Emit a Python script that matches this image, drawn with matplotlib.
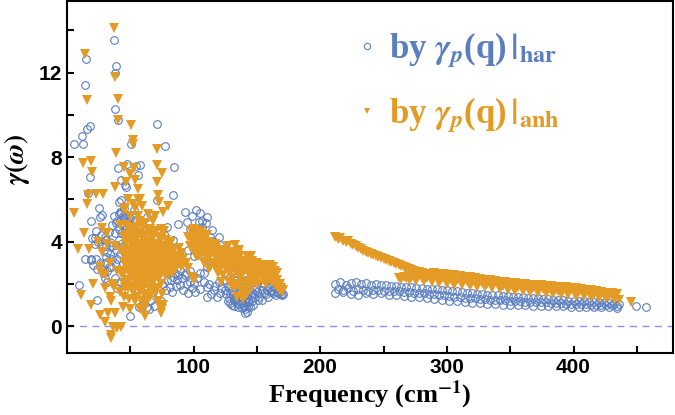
import matplotlib
matplotlib.use('Agg')
import matplotlib.pyplot as plt
from matplotlib.lines import Line2D

# data: (frequency cm^-1, gamma)
# by gamma_p(q)|har  (blue circles)
har_low = [(5.8,8.6),(12.6,8.6),(11.6,9.0),(14,11.4),(15,12.65),(15.9,9.35),(18.1,9.48),(37,13.55),
           (38.6,12.3),(38,12.0),(37.8,10.3),(40.7,9.76),(51,8.6),(71.4,9.57),(77.7,8.53),(84.5,7.55),
           (47.8,7.68),(57.5,7.63),(40.7,7.5),(54.4,7.6),(56.5,7.16),(18.3,7.05),(17,6.3),(25.4,5.58),
           (26.2,5.18),(27.7,5.26),(18.9,4.98),(20.2,4.16),(22.3,4.16),(30.2,4.08),(10,1.94),(23.6,1.23),
           (19.3,3.13),(23.2,3.18),(31.1,3.28),(27.6,2.69),(14.5,3.2),(19,3.2),(33.6,4.47),(39,3.84),
           (43,5.34),(45.5,5.18),(48.2,4.87),(46.8,6.6),(43,5.97),(42.6,6.92),(46.3,6.68),(41.5,5.89),
           (63,5.18),(71.2,5.97),(84,6.21),(78.8,4.7),(77,4.35),(93.2,5.42),(94.5,4.94),(88,4.83),
           (84,4.08),(84,2.81),(89.4,2.65),(93.4,2.42),(97.1,2.1),(96,1.55),(89.4,1.94),(81.6,1.86),
           (84,2.34),(86.9,2.97),(90.9,3.13),(28,3.8),(30,4.2),(32,3.5),(34,4.0),(35,2.8),(36,3.2),
           (38,4.4),(39,3.6),(40,5.0),(41,4.6),(42,5.4),(43,3.9),(44,4.8),(45,5.6),(46,4.3),(47,3.4),
           (48,5.1),(49,2.8),(50,4.5),(51,3.7),(52,2.3),(53,5.5),(54,4.0),(55,1.6),(56,3.2),(57,0.9),
           (58,2.0),(60,4.6),(62,1.4),(64,2.6),(65,0.8),(66,3.6),(68,1.6),(70,2.2),(72,4.0),(74,1.2),
           (76,2.8),(78,1.7),(80,3.4),(82,2.2),(86,1.9),(88,2.4),(92,1.7),(94,2.5),(30,2.3),(32,2.1),
           (33,2.8),(26,3.0),(24,2.7),(22,3.9),(27,4.3),(50,0.5),(44,3.0),(46,2.5),(41,4.1),(43,4.4),
           (45,3.7),(47,4.0)]
har_fill = [(36,4.8),(37,5.2),(38,3.0),(39,4.9),(40,3.2),(41,5.3),(42,3.4),(43,4.9),(44,5.2),(45,4.4),
            (46,5.0),(47,4.6),(48,3.8),(49,4.2),(50,5.1),(51,4.8),(52,4.3),(53,4.6),(54,5.0),(55,4.4),
            (36,3.8),(34,3.4),(32,2.6),(30,3.0),(29,2.5),(31,3.8),(25,4.0),(23,4.5),(21,2.9),(38,2.3),
            (40,1.8),(42,2.1),(57,4.8),(59,1.5),(61,1.1),(63,0.9),(66,1.2),(69,0.95),(72,1.5),(75,2.0),
            (79,2.2),(83,1.6),(85,2.5),(87,2.2),(91,2.3),(95,2.0),(97,2.6),(99,1.8),(101,1.6),(103,2.3),
            (108,2.5),(112,2.0),(114,1.5),(117,1.9),(120,2.1),(122,1.8),(126,1.5),(127,1.9),(128,1.35),
            (129,1.1),(130,1.7),(131,1.45),(132,0.95),(133,1.2),(134,1.5),(135,1.25),(136,1.05),
            (137,1.6),(138,0.85),(139,1.35),(140,1.0),(141,0.8),(142,1.35),(143,0.95),(144,1.15),
            (145,1.45),(146,1.2),(147,1.0),(148,1.5),(150,1.6),(152,1.4),(154,1.7),(157,1.5),(159,1.4),
            (162,1.7),(165,1.45),(169,1.5),(171,1.5),(104,3.8),(108,3.4),(113,4.2),(116,4.0),(107,5.0),
            (99,5.2),(97,4.6),(96,3.6)]
har_mid = [(102,5.5),(105.3,5.34),(110.6,5.18),(109.8,4.9),(104.2,4.94),(114.5,4.55),(106.8,4.7),
           (119.8,4.23),(121.1,3.84),(126.4,3.6),(118.5,3.13),(110.8,2.81),(105.3,2.5),(107.9,2.1),
           (110.6,1.86),(115.8,1.7),(110.6,1.39),(118.5,1.39),(121.1,1.55),(124.7,1.7),(105.3,1.78),
           (100.5,2.02),(129,1.55),(131.6,1.23),(134.3,1.08),(136.9,1.39),(139.5,0.92),(142.1,0.68),
           (144.8,0.92),(140.8,1.23),(134.3,1.7),(129,1.86),(131.6,2.18),(136.9,1.86),(143.4,1.63),
           (147.4,1.39),(151.3,1.23),(155.3,1.55),(157.9,1.7),(160.5,1.86),(163.1,1.55),(165.8,1.63),
           (163.1,2.02),(159.2,2.18),(152.6,2.34),(150,2.02),(144.8,1.94),(140.8,2.18),(132.9,2.5),
           (129,2.34),(167,1.55),(170,1.45),(127,1.2),(130,1.0),(133,1.4),(135,0.9),(138,1.1),(141,1.5),
           (143,1.2),(146,1.6),(149,1.8),(153,1.9),(156,2.0),(161,1.6),(164,1.8),(168,1.6),(112,3.6),
           (116,3.0),(123,2.8),(125,2.2),(128,2.9),(100,3.3),(103,4.2),(140.8,0.6),(154,1.23)]
har_high_top = [(212,2.0),(216,2.08),(220,1.95),(224,2.05),(228,2.1),(232,1.98),(236,2.05),(240,1.95),
                (244,1.98),(248,1.93),(252,1.95),(256,1.9),(260,1.9),(264,1.87),(268,1.86),(272,1.84),
                (276,1.82),(280,1.8),(284,1.78),(288,1.76),(292,1.74),(296,1.72),(300,1.7),(304,1.67),
                (308,1.64),(312,1.61),(316,1.58),(320,1.55),(324,1.53),(328,1.51),(332,1.49),(336,1.47),
                (340,1.45),(344,1.43),(348,1.41),(352,1.39),(356,1.37),(360,1.36),(364,1.34),(368,1.33),
                (372,1.31),(376,1.3),(380,1.28),(384,1.26),(388,1.25),(392,1.23),(396,1.21),(400,1.2),
                (404,1.18),(408,1.17),(412,1.15),(416,1.13),(420,1.12),(424,1.1),(428,1.08),(432,1.06),
                (436,1.05)]
har_high_mid = [(214,1.75),(218,1.7),(222,1.8),(226,1.65),(230,1.78),(234,1.72),(238,1.68),(242,1.72),
                (246,1.7),(250,1.68),(254,1.66),(258,1.65),(262,1.66),(266,1.62),(270,1.6),(274,1.58),
                (278,1.57),(282,1.56),(286,1.52),(290,1.5),(294,1.47),(298,1.45),(302,1.43),(306,1.4),
                (310,1.37),(314,1.35),(318,1.33),(322,1.32),(326,1.3),(330,1.28),(334,1.26),(338,1.25),
                (342,1.23),(346,1.22),(350,1.2),(354,1.19),(358,1.17),(362,1.16),(366,1.15),(370,1.14),
                (374,1.13),(378,1.12),(382,1.11),(386,1.1),(390,1.08),(394,1.07),(398,1.06),(402,1.05),
                (406,1.04),(410,1.03),(414,1.02),(418,1.01),(422,1.0),(426,0.99),(430,0.98),(434,0.97)]
har_high_low = [(212,1.55),(218,1.6),(224,1.5),(230,1.45),(236,1.55),(242,1.5),(248,1.55),(254,1.48),
                (260,1.45),(266,1.42),(272,1.4),(278,1.37),(284,1.32),(290,1.28),(296,1.24),(302,1.2),
                (308,1.17),(314,1.14),(320,1.1),(326,1.08),(332,1.06),(338,1.04),(344,1.02),(350,1.0),
                (356,0.99),(362,0.98),(368,0.97),(374,0.96),(380,0.95),(386,0.94),(392,0.93),(398,0.92),
                (404,0.92),(410,0.91),(416,0.9),(422,0.9),(428,0.89),(434,0.88),(449,0.95),(457,0.92)]

# by gamma_p(q)|anh  (orange triangles)
anh_low = [(14.5,12.9),(37,14.1),(38,11.8),(15.9,10.7),(40.7,10.77),(40.7,9.76),(51,9.5),(52.5,8.8),
           (52.5,8.6),(71.4,8.4),(38.8,8.18),(13,7.7),(19.4,7.8),(45.1,7.55),(53,7.5),(71.4,7.63),
           (74.8,7.24),(19.7,7.3),(16.8,6.2),(22.8,6.26),(28.6,6.26),(38.4,6.6),(16.1,5.77),(5.3,5.34),
           (9.2,3.65),(17.4,3.65),(13.2,4.42),(24.5,4.0),(27.9,4.66),(31.9,3.89),(26.6,2.5),(20.6,1.99),
           (11.4,1.47),(18.7,1.0),(25.8,0.52),(32.4,0.6),(29.8,0.2),(36.4,-0.03),(35,-0.43),(34.6,-0.58),
           (33.7,1.39),(37.6,1.86),(42.4,-0.03),(54,6.9),(56,6.5),(58,6.0),(59,5.7),(71,6.8),(72,6.2),
           (73,5.9),(45,5.5),(47,6.8),(50,7.2),(26,2.8),(28,3.5),(30,2.4),(32,4.4),(34,3.0),(36,2.0),
           (38,3.8),(40,2.6),(42,1.6),(42,4.8),(44,3.4),(30,1.8),(35,1.2),(38,0.6),(40,-0.1),(44,0.9),
           (46,5.6),(48,6.0)]
anh_blob = [(45,2.0),(45,3.0),(45,4.2),(45,1.4),(48,2.6),(48,3.5),(48,1.8),(48,4.6),(50,3.2),(50,2.2),
            (50,4.0),(50,0.8),(50,5.2),(52,2.8),(52,3.8),(52,1.6),(52,4.5),(54,3.4),(54,2.4),(54,4.2),
            (54,1.2),(54,5.6),(56,3.0),(56,2.0),(56,3.8),(56,2.6),(56,6.0),(58,3.5),(58,2.8),(58,1.6),
            (58,4.4),(58,0.8),(60,3.2),(60,2.4),(60,3.9),(60,1.0),(60,4.8),(62,3.6),(62,2.9),(62,2.0),
            (62,0.5),(62,4.3),(64,3.3),(64,2.6),(64,4.0),(64,1.5),(66,3.8),(66,3.0),(66,2.2),(66,4.6),
            (68,3.4),(68,2.8),(68,4.2),(68,1.8),(70,3.6),(70,3.0),(70,2.4),(70,4.4),(70,5.2),(72,3.2),
            (72,2.6),(72,3.9),(72,1.2),(74,3.5),(74,2.9),(74,2.0),(74,0.6),(74,4.6),(76,3.2),(76,2.6),
            (76,3.8),(76,1.0),(76,5.4),(78,3.4),(78,2.8),(78,4.1),(80,3.0),(80,2.4),(80,3.7),(80,5.7),
            (82,3.3),(82,2.7),(82,4.0),(84,3.0),(84,2.5),(84,3.6),(86,2.8),(86,3.3),(55,3.5),(57,2.3),
            (59,3.0),(61,2.7),(63,3.4),(65,2.5),(67,3.3),(69,2.6),(71,3.3),(73,2.8),(75,3.4),(77,3.0),
            (79,3.2),(53,3.1),(51,2.5),(47,3.2),(61,1.5),(75,1.5),(59,4.2),(65,4.3)]
anh_blob_fill = [(43,2.5),(43,3.6),(45,2.6),(45,3.5),(47,2.2),(47,3.9),(47,4.3),(49,2.9),(49,3.6),
                 (49,1.3),(51,3.0),(51,4.2),(51,1.9),(53,2.3),(53,3.6),(53,4.7),(55,2.8),(55,4.1),
                 (55,1.4),(57,3.2),(57,3.9),(57,1.8),(57,5.0),(59,2.5),(59,3.6),(59,1.2),(61,3.1),
                 (61,3.9),(61,2.2),(61,0.8),(63,2.7),(63,3.8),(63,1.2),(65,3.0),(65,3.6),(65,1.8),
                 (67,2.6),(67,3.9),(67,2.0),(69,3.1),(69,3.8),(69,2.2),(71,2.8),(71,3.9),(71,1.8),
                 (73,3.3),(73,2.3),(73,4.2),(73,1.0),(75,2.6),(75,3.8),(75,0.8),(77,2.5),(77,3.6),
                 (77,4.5),(79,2.7),(79,3.8),(81,2.8),(81,3.5),(83,2.9),(83,3.4),(85,3.2),(85,2.7),
                 (87,3.0),(62,4.9),(64,5.3),(68,5.0),(56,5.2),(52,5.8),(60,1.8),(66,1.4),(70,1.6),
                 (58,2.2),(54,1.8),(46,1.8),(44,2.4)]
anh_blob_core = [(46,3.0),(48,3.0),(50,2.7),(50,3.6),(52,3.3),(54,2.9),(54,3.8),(56,3.4),(56,4.4),
                 (58,3.1),(58,3.9),(60,2.8),(60,3.5),(62,3.2),(62,2.5),(64,2.9),(64,3.7),(66,2.6),
                 (66,3.4),(68,3.1),(68,2.4),(70,2.7),(70,3.3),(72,2.9),(72,3.6),(74,3.2),(74,2.5),
                 (76,2.9),(78,3.1),(78,2.4),(80,2.7),(80,3.4),(82,3.0),(86,3.1),(88,3.0),(90,2.8),
                 (47,4.8),(53,4.2),(58,4.8),(63,4.6),(69,4.5),(75,4.2)]
anh_mid = [(88.2,3.68),(90.3,3.44),(92.1,3.2),(94.2,2.97),(89.7,3.28),(93.5,2.97),(96,2.73),(98.7,2.34),
           (100,2.18),(107.9,2.97),(132.9,3.84),(96,4.2),(98,4.5),(100,3.9),(101,4.3),(103,4.0),(104,3.6),
           (105,4.4),(106,3.8),(108,4.1),(109,3.4),(110,3.9),(111,3.2),(112,4.0),(113,3.6),(114,3.0),
           (115,3.8),(116,3.4),(117,2.8),(118,3.7),(119,3.2),(120,2.6),(121,3.5),(122,3.0),(123,2.4),
           (124,3.6),(125,3.2),(126,2.7),(127,3.8),(128,3.3),(129,2.9),(130,2.3),(131,3.5),(132,3.0),
           (133,2.6),(134,2.0),(135,3.4),(136,2.8),(137,2.3),(138,1.6),(139,3.1),(140,2.6),(141,2.1),
           (142,3.3),(143,2.9),(144,2.4),(145,1.8),(146,3.1),(147,2.7),(148,2.2),(149,2.9),(150,2.5),
           (151,2.0),(152,2.8),(153,2.4),(154,2.9),(155,2.2),(156,2.6),(157,2.0),(158,2.8),(159,2.3),
           (160,2.9),(161,2.5),(162,2.1),(163,2.8),(164,2.4),(165,1.9),(166,2.2),(167,1.8),(168,1.7),
           (170,1.6),(102,3.3),(107,3.5),(112,2.7),(119,2.5),(126,3.0),(136,3.6),(145,2.7),(150,3.0)]
anh_mid_fill = [(97,3.8),(99,4.1),(101,3.6),(103,4.4),(105,3.5),(107,4.2),(109,3.7),(111,4.3),(113,3.3),
                (115,3.5),(117,3.9),(119,2.9),(121,3.2),(123,3.4),(125,2.9),(127,3.5),(129,2.6),
                (131,3.2),(133,3.3),(135,2.5),(137,3.3),(139,2.8),(141,3.0),(143,2.6),(145,3.3),
                (147,2.4),(149,2.6),(151,2.8),(153,2.6),(155,2.5),(157,2.8),(159,2.6),(161,2.2),
                (163,2.3),(165,2.5),(167,2.0),(169,1.8),(171,1.7),(122,2.1),(128,2.1),(132,1.8),
                (136,1.9),(140,1.7),(142,1.5),(144,2.1),(146,1.9),(134,1.4),(130,1.9),(139,1.3),
                (98,3.7),(100,4.6),(102,4.1),(104,3.3),(106,4.5),(108,3.6),(110,3.5),(112,3.4),
                (114,3.6),(116,3.8),(118,3.4),(120,3.0),(122,3.6),(124,3.0),(126,3.4),(128,2.6),
                (130,3.0),(132,3.5),(134,2.9),(136,3.1),(138,2.5),(140,2.9),(142,2.7),(144,3.0),
                (146,2.6),(148,2.8),(150,2.3),(152,2.5),(154,2.6),(156,2.3),(158,2.5),(160,2.6),
                (162,2.6),(164,2.6),(166,2.5),(168,2.0)]
anh_high_branch = [(212,4.2),(214,4.12),(216,4.18),(218,4.05),(220,3.98),(222,4.02),(224,3.88),
                   (226,3.85),(228,3.78),(230,3.7),(232,3.64),(234,3.58),(236,3.52),(238,3.48),
                   (240,3.42),(242,3.38),(244,3.33),(246,3.28),(248,3.22),(250,3.18),(252,3.12),
                   (254,3.08),(256,3.02),(258,2.98),(260,2.95),(262,2.9),(264,2.86),(266,2.82),
                   (268,2.76),(270,2.7),(272,2.66),(274,2.62),(276,2.58),(278,2.55),(280,2.5)]
anh_high_top = [(262,2.3),(266,2.33),(270,2.36),(274,2.38),(278,2.4),(282,2.44),(286,2.47),(290,2.5),
                (294,2.48),(298,2.46),(302,2.44),(306,2.4),(310,2.37),(314,2.33),(318,2.31),(322,2.28),
                (326,2.23),(330,2.2),(334,2.17),(338,2.14),(342,2.11),(346,2.08),(350,2.05),(354,2.03),
                (358,2.01),(362,1.99),(366,1.97),(370,1.95),(374,1.93),(378,1.91),(382,1.89),(386,1.87),
                (390,1.85),(394,1.83),(398,1.81),(402,1.79),(406,1.76),(410,1.73),(414,1.7),(418,1.67),
                (422,1.63),(426,1.59),(430,1.55),(434,1.5)]
anh_high_mid = [(264,2.25),(268,2.28),(272,2.3),(276,2.3),(280,2.3),(284,2.3),(288,2.3),(292,2.28),
                (296,2.26),(300,2.24),(304,2.2),(308,2.18),(312,2.15),(316,2.12),(320,2.1),(324,2.06),
                (328,2.03),(332,2.0),(336,1.98),(340,1.95),(344,1.92),(348,1.9),(352,1.87),(356,1.85),
                (360,1.83),(364,1.81),(368,1.79),(372,1.77),(376,1.75),(380,1.72),(384,1.7),(388,1.68),
                (392,1.66),(396,1.64),(400,1.62),(404,1.6),(408,1.57),(412,1.55),(416,1.52),(420,1.5),
                (424,1.47),(428,1.43),(432,1.4)]
anh_high_low = [(270,2.2),(276,2.15),(282,2.12),(288,2.08),(294,2.04),(300,2.0),(306,1.97),(312,1.94),
                (318,1.91),(324,1.87),(330,1.83),(336,1.79),(342,1.75),(348,1.71),(354,1.68),(360,1.65),
                (366,1.62),(372,1.59),(378,1.56),(384,1.53),(390,1.5),(396,1.47),(402,1.44),(408,1.41),
                (414,1.38),(420,1.35),(426,1.31),(432,1.27),(436,1.25),(445,1.15)]

blue = '#5b7ebf'
orange = '#e39b25'

plt.rcParams['font.family'] = 'Liberation Serif'
plt.rcParams['font.weight'] = 'bold'
plt.rcParams['mathtext.fontset'] = 'stix'

fig = plt.figure(figsize=(6.75, 4.15), dpi=100)
ax = fig.add_axes([0.099, 0.149, 0.898, 0.849])

ax.axhline(0, color='#8f8ff0', lw=1, ls=(0, (5, 4)), zorder=1)

for pts in (har_low, har_fill, har_mid, har_high_top, har_high_mid, har_high_low):
    f, g = zip(*pts)
    ax.plot(f, g, 'o', mfc='none', mec=blue, ms=5.5, mew=0.8, zorder=2)
for pts in (anh_low, anh_blob, anh_blob_fill, anh_blob_core, anh_mid, anh_mid_fill,
            anh_high_branch, anh_high_top, anh_high_mid, anh_high_low):
    f, g = zip(*pts)
    ax.plot(f, g, 'v', color=orange, ms=6.5, mew=0, zorder=3)

ax.set_xlim(0, 478.5)
ax.set_ylim(-1.28, 15.4)
ax.set_xticks([100, 200, 300, 400])
ax.set_xticks([50, 150, 250, 350, 450], minor=True)
ax.set_yticks([0, 4, 8, 12])
ax.set_yticks([2, 6, 10, 14], minor=True)
ax.tick_params(which='both', direction='in', length=5, width=1.5, top=False, right=False)
for lab in ax.get_xticklabels() + ax.get_yticklabels():
    lab.set_fontfamily('Liberation Sans')
    lab.set_fontweight('bold')
    lab.set_fontsize(15)
for s in ax.spines.values():
    s.set_linewidth(1.5)

ax.set_xlabel(r'Frequency (cm$^{\mathbf{-1}}$)', fontsize=19, fontweight='bold', labelpad=1)
ax.set_ylabel(r'$\gamma(\omega)$', fontsize=20, fontweight='normal')
ax.yaxis.set_label_coords(-0.058, 0.55)

handles = [Line2D([], [], ls='none', marker='o', mfc='none', mec=blue, ms=4.5, mew=0.8),
           Line2D([], [], ls='none', marker='v', color=orange, ms=4.5, mew=0)]
labels = [r'by $\mathbfit{\gamma}_{\mathit{p}}$(q)$\,|_{\mathbf{har}}$',
          r'by $\mathbfit{\gamma}_{\mathit{p}}$(q)$\,|_{\mathbf{anh}}$']
ax.legend(handles, labels, loc='upper left', bbox_to_anchor=(0.443, 0.965), frameon=False,
          fontsize=25, handlelength=0.8, handletextpad=0.25, labelspacing=0.7, borderpad=0,
          labelcolor=[blue, orange])

fig.savefig('out.png', dpi=100)
